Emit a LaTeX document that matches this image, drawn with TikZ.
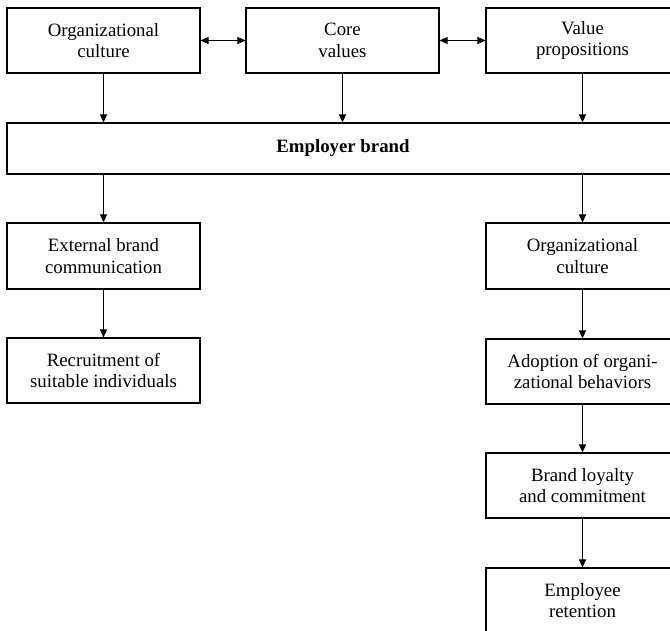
\documentclass[tikz,border=0pt]{standalone}
\usepackage{fontspec}
\setmainfont{Liberation Serif}
\usetikzlibrary{arrows.meta}
\begin{document}
\begin{tikzpicture}[x=1pt,y=-1pt,
  box/.style={draw,line width=1.1pt,minimum width=193pt,minimum height=65pt,inner sep=0pt,
    align=center,font=\fontsize{18.8}{21.6}\selectfont},
  arr/.style={line width=0.8pt,-{Triangle[length=8pt,width=7pt]}},
  dbl/.style={line width=0.8pt,{Triangle[length=8pt,width=7pt]}-{Triangle[length=8pt,width=7pt]}}]
\useasboundingbox (0,0) rectangle (670,631);
\clip (0,0) rectangle (670,631);
\node[box] (oc) at (103.5,40.5) {Organizational\\culture};
\node[box] (cv) at (342.5,40.5) {Core\\values};
\node[box] (vp) at (582.5,40.5) {Value\\propositions};
\node[box,minimum width=672pt,minimum height=51pt,font=\fontsize{18.8}{21.6}\selectfont\bfseries] (eb) at (343,148.5) {Employer brand};
\node[box,minimum height=66pt] (ebc) at (103.5,256) {External brand\\communication};
\node[box] (rec) at (103.5,370.5) {Recruitment of\\suitable individuals};
\node[box,minimum height=66pt] (oc2) at (582.5,256) {Organizational\\culture};
\node[box] (ado) at (582.5,371.5) {Adoption of organi-\\zational behaviors};
\node[box] (bl) at (582.5,485.5) {Brand loyalty\\and commitment};
\node[box] (er) at (582.5,600.5) {Employee\\retention};
\draw[dbl] (oc) -- (cv);
\draw[dbl] (cv) -- (vp);
\draw[arr] (oc) -- (oc |- eb.north);
\draw[arr] (cv) -- (cv |- eb.north);
\draw[arr] (vp) -- (vp |- eb.north);
\draw[arr] (ebc |- eb.south) -- (ebc);
\draw[arr] (oc2 |- eb.south) -- (oc2);
\draw[arr] (ebc) -- (rec);
\draw[arr] (oc2) -- (ado);
\draw[arr] (ado) -- (bl);
\draw[arr] (bl) -- (er);
\end{tikzpicture}
\end{document}
